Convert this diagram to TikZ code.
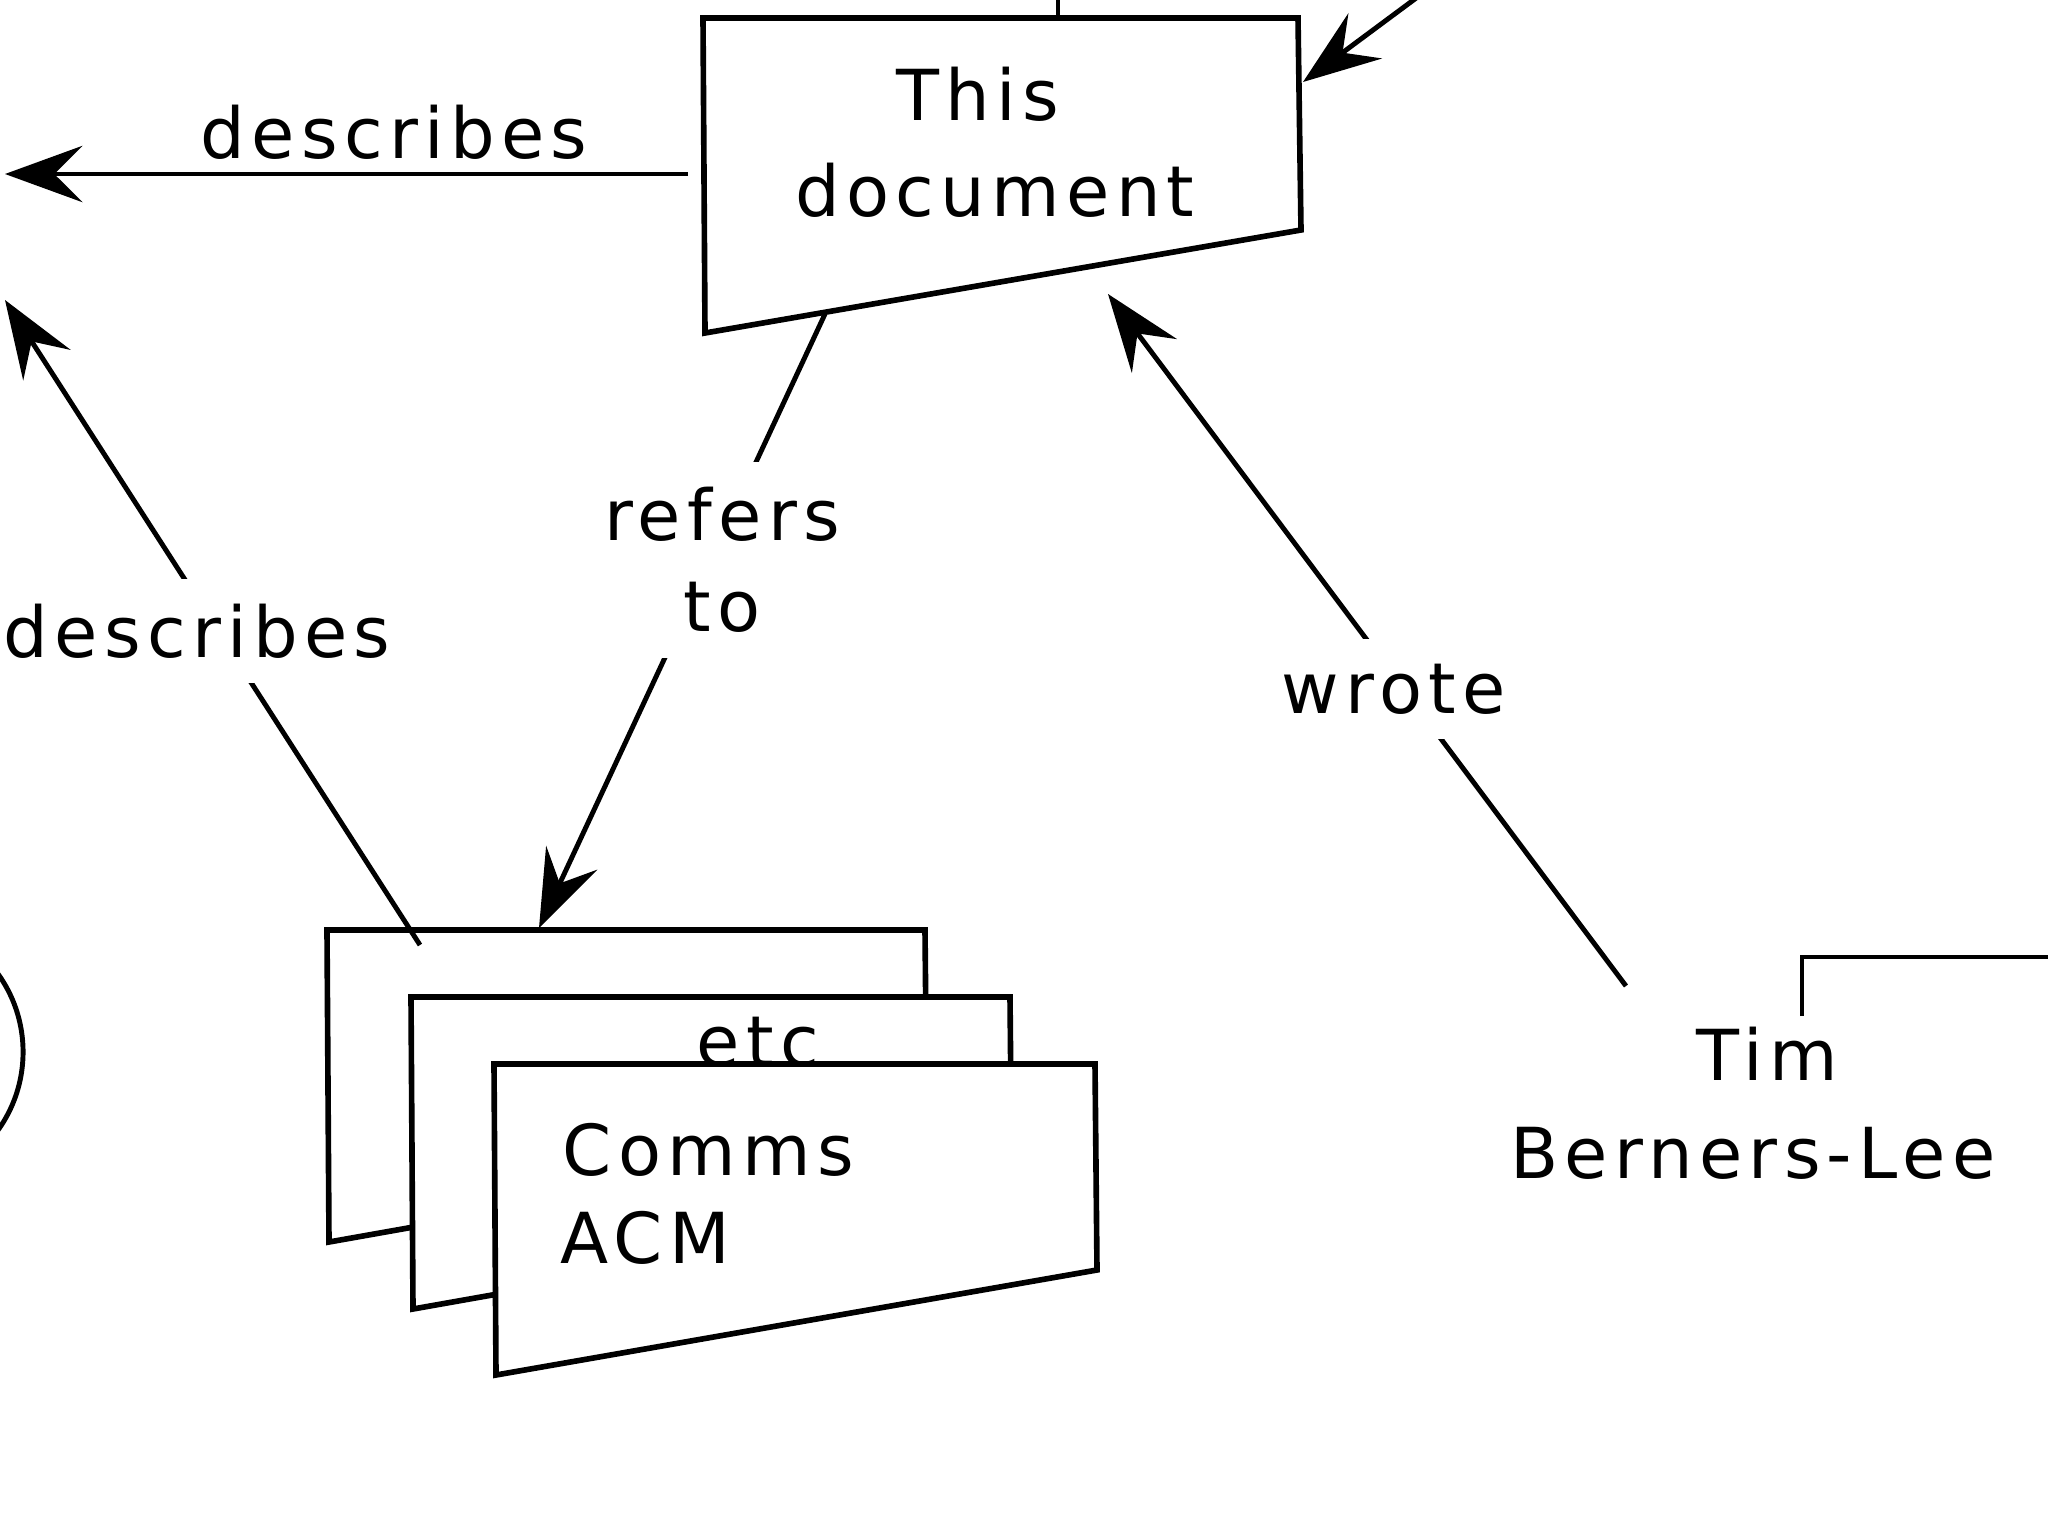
\documentclass[tikz,border=0pt]{standalone}
\usepackage{fontspec}
\setmainfont{DejaVu Sans}[LetterSpace=9]
\usetikzlibrary{arrows.meta}
\tikzset{
  docbox/.style={draw=black, line width=1.6pt, fill=white, line join=miter},
  conn/.style={draw=black, line width=1.4pt},
  arr/.style={conn, -{Stealth[length=22pt,width=16pt,inset=8pt]}},
  lbl/.style={font=\fontsize{20}{26}\selectfont, inner sep=0pt},
  cutlbl/.style={lbl, fill=white, inner sep=7pt, align=center},
}
\begin{document}
\begin{tikzpicture}[x=0.01cm,y=-0.01cm]
\clip (0,0) rectangle (2048,1536);
\fill[white] (0,0) rectangle (2048,1536);

% This document
\path[docbox] (703,18) coordinate (docTL) -- (1298,18) coordinate (docTR) -- (1301,230) coordinate (docBR) -- (705,333) coordinate (docBL) -- cycle;
\node[lbl, anchor=base] (this) at (978,120) {This};
\node[lbl, anchor=base] (document) at (995,216) {document};

% stack of cards
\path[docbox] (327,930) coordinate (c1TL) -- (925,930) -- (927,1136) -- (329,1242) -- cycle;
\path[docbox] (411,997) coordinate (c2TL) -- (1010,997) -- (1012,1203) -- (413,1309) -- cycle;
\node[lbl, anchor=base] (etc) at (758,1066) {etc};
\path[docbox] (494,1064) coordinate (c3TL) -- (1095,1064) -- (1097,1270) -- (496,1375) -- cycle;
\node[lbl, anchor=base west] (comms) at (562,1175) {Comms};
\node[lbl, anchor=base west] (acm) at (560,1263) {ACM};

% coordinates
\coordinate (docTop) at (1058,18);
\coordinate (offTop) at (1058,-40);
\coordinate (docL) at (688,174);
\coordinate (descEnd) at (5,174);
\coordinate (offTR) at (1524,-82);
\coordinate (docR) at (1303,82);
\coordinate (docRef) at (825,314);
\coordinate (cardRef) at (539,928);
\coordinate (timW) at (1626,986);
\coordinate (docW) at (1108,294);
\coordinate (cardD) at (420,945);
\coordinate (descEnd2) at (5,300);
\coordinate (timTop) at (1802,1016);
\coordinate (offTim) at (2100,957);

% connectors
\draw[conn] (docTop) -- (offTop);
\draw[arr] (docL) -- (descEnd);
\draw[arr] (offTR) -- (docR);
\draw[arr] (docRef) -- (cardRef);
\draw[arr] (timW) -- (docW);
\draw[arr] (cardD) -- (descEnd2);
\draw[conn] (timTop) |- (offTim);

% left partial circle
\draw[conn] (-111,1052) circle [radius=1.34cm];

% labels
\node[lbl, anchor=base] (descTop) at (394,158) {describes};
\node[cutlbl] (refers) at (722,560) {refers\\to};
\node[cutlbl, anchor=base] (wrote) at (1394,713) {wrote};
\node[cutlbl, anchor=base] (descLow) at (197,657) {describes};
\node[lbl, anchor=base] (tim) at (1767,1080) {Tim};
\node[lbl, anchor=base] (berners) at (1753,1178) {Berners-Lee};
\end{tikzpicture}
\end{document}
